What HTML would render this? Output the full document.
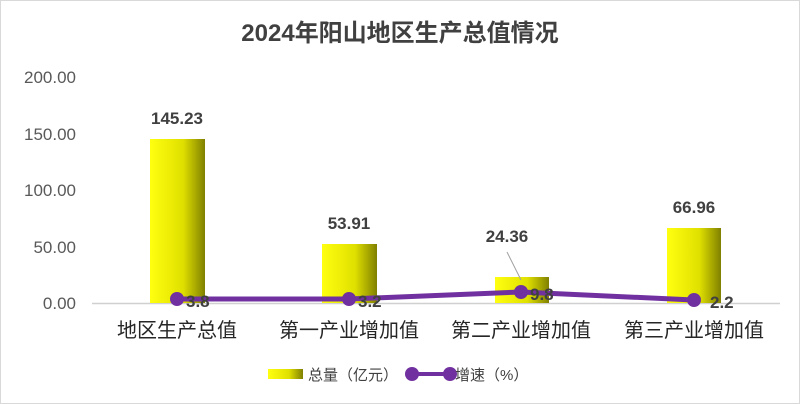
<!DOCTYPE html><html><head><meta charset="utf-8"><style>body{margin:0;background:#fff}svg{display:block}text{font-family:"Liberation Sans","Noto Sans CJK SC",sans-serif}</style></head><body>
<svg width="800" height="404" viewBox="0 0 800 404">
<defs><linearGradient id="g" x1="0" x2="1"><stop offset="0" stop-color="#ffff10"/><stop offset="0.6" stop-color="#e0e000"/><stop offset="1" stop-color="#808000"/></linearGradient></defs>
<rect x="0.5" y="0.5" width="799" height="403" fill="#fff" stroke="#d9d9d9"/>
<text x="400" y="41" text-anchor="middle" font-size="24" font-weight="bold" fill="#404040">2024年阳山地区生产总值情况</text>
<g font-size="17" fill="#595959" text-anchor="end">
<text x="76" y="83">200.00</text><text x="76" y="140">150.00</text><text x="76" y="196">100.00</text><text x="76" y="253">50.00</text><text x="76" y="309">0.00</text></g>
<line x1="92" y1="303.5" x2="780" y2="303.5" stroke="#d0d0d0" stroke-width="1.5"/>
<rect x="150" y="139" width="55" height="164" fill="url(#g)"/>
<rect x="322" y="244" width="55" height="59" fill="url(#g)"/>
<rect x="495" y="277" width="54" height="26" fill="url(#g)"/>
<rect x="667" y="228" width="54" height="75" fill="url(#g)"/>
<g font-size="17" font-weight="bold" fill="#404040" text-anchor="middle">
<text x="177" y="124">145.23</text><text x="349" y="229">53.91</text><text x="507" y="242">24.36</text><text x="694" y="213">66.96</text></g>
<line x1="507" y1="252" x2="521" y2="280" stroke="#a0a0a0"/>
<polyline points="177,299 349,299 521,292 694,300" fill="none" stroke="#7030a0" stroke-width="5"/>
<g fill="#7030a0"><circle cx="177" cy="299" r="7"/><circle cx="349" cy="299" r="7"/><circle cx="521" cy="292" r="7"/><circle cx="694" cy="300" r="7"/></g>
<g font-size="17" font-weight="bold" fill="#404040">
<text x="186" y="307">3.8</text><text x="358" y="307">3.2</text><text x="530" y="300">9.8</text><text x="710" y="308">2.2</text></g>
<g font-size="20" fill="#262626" text-anchor="middle">
<text x="177" y="337">地区生产总值</text><text x="349" y="337">第一产业增加值</text><text x="521" y="337">第二产业增加值</text><text x="694" y="337">第三产业增加值</text></g>
<rect x="268" y="369" width="35" height="10" fill="url(#g)"/>
<text x="308" y="380" font-size="15" fill="#404040">总量（亿元）</text>
<line x1="412" y1="374" x2="450" y2="374" stroke="#7030a0" stroke-width="4"/>
<circle cx="412" cy="374" r="7" fill="#7030a0"/><circle cx="450" cy="374" r="7" fill="#7030a0"/>
<text x="455" y="380" font-size="15" fill="#404040">增速（%）</text>
</svg></body></html>
